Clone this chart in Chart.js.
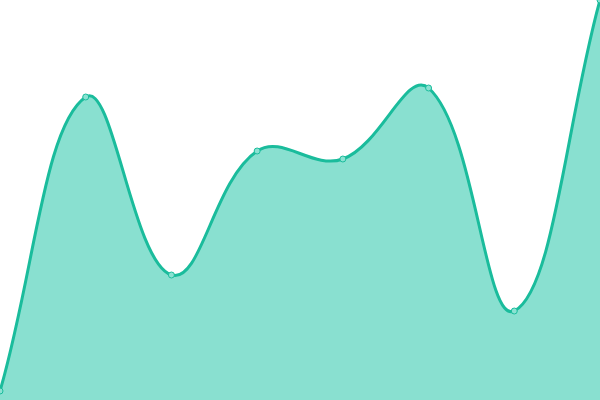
<!DOCTYPE html>
<html>
<head>
<meta charset="utf-8">
<script src="https://cdn.jsdelivr.net/npm/chart.js@4/dist/chart.umd.min.js"></script>
<style>
  html, body { margin: 0; padding: 0; background: #fff; }
  #wrap { width: 600px; height: 400px; }
</style>
</head>
<body>
<div id="wrap"><canvas id="myChart"></canvas></div>
<script>
// данные
const labels = ['1', '2', '3', '4', '5', '6', '7', '8'];
const values = [2.25, 75.75, 31.25, 62.25, 60.25, 78, 22.25, 100];

const lineColor = '#1abc9c';
const fillColor = 'rgba(19, 193, 161, 0.5)';

const ctx = document.getElementById('myChart').getContext('2d');
const chart = new Chart(ctx, {
  type: 'line',
  data: {
    labels: labels,
    datasets: [
      {
        data: values,
        fill: true,
        tension: 0.4,
        borderColor: lineColor,
        borderWidth: 3,
        backgroundColor: fillColor,
        pointRadius: 3,
        pointBorderWidth: 1,
        pointBackgroundColor: '#8ae2d2',
        pointBorderColor: lineColor,
      },
    ],
  },
  options: {
    responsive: true,
    maintainAspectRatio: false,
    animation: false,
    layout: { padding: 0, autoPadding: false },
    scales: {
      x: { display: false },
      y: { display: false, min: 0, max: 100 },
    },
    plugins: {
      legend: { display: false },
      tooltip: { enabled: false },
    },
  },
});
</script>
</body>
</html>
